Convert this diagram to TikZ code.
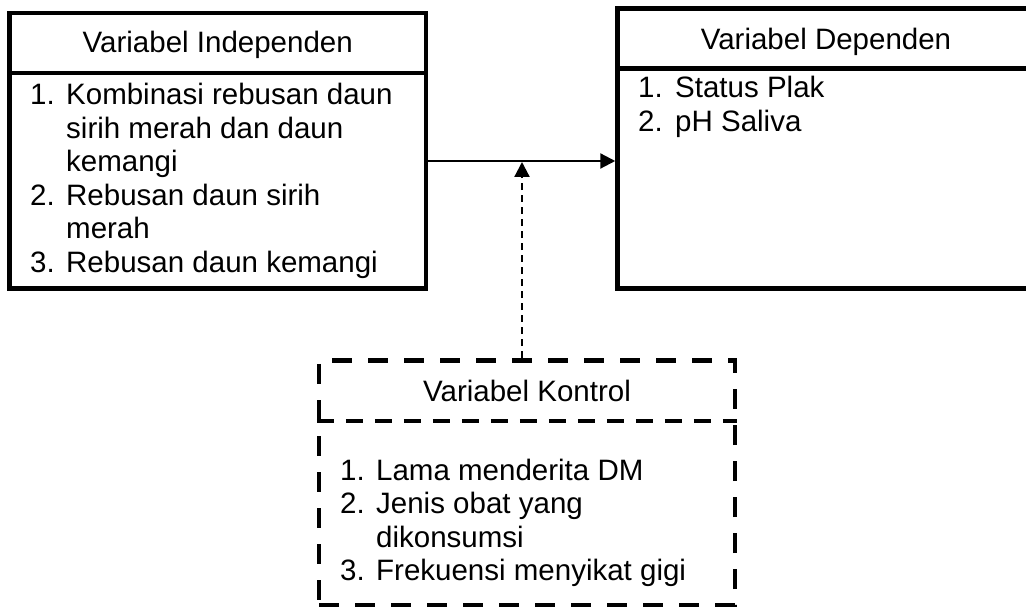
\documentclass[tikz,border=0pt]{standalone}
\usepackage{fontspec}
\setmainfont{Liberation Sans}
\usetikzlibrary{arrows.meta}

\tikzset{
  framebox/.style={draw, line width=4.5pt, inner sep=0pt},
  ctrlbox/.style={framebox, dash pattern=on 20pt off 16pt},
  divider/.style={line width=4.5pt},
  ctrldivider/.style={line width=4pt, dash pattern=on 17pt off 12pt},
  titletext/.style={anchor=base, inner sep=0pt, font=\fontsize{29.5}{34}\selectfont},
  listtext/.style={anchor=base west, inner sep=0pt, align=left, font=\fontsize{29.5}{33.6}\selectfont},
  flow/.style={line width=2.2pt, -{Triangle[length=15pt,width=15pt]}},
  ctrlflow/.style={flow, dash pattern=on 7pt off 5pt}
}

\begin{document}
\begin{tikzpicture}[x=1pt, y=-1pt]
  \useasboundingbox (0,0) rectangle (1026,612);

  % independent variable
  \node[framebox, minimum width=416.5pt, minimum height=275.5pt] (indep) at (217.75,150.75) {};
  \draw[divider] (indep.west |- 0,73) -- (indep.east |- 0,73);
  \node[titletext] (indeptitle) at (217.75,53) {Variabel Independen};
  \node[listtext] (indeplist) at (30,104.5) {%
    \begin{tabular}[t]{@{}p{36pt}@{}l@{}}
      1. & Kombinasi rebusan daun \\
         & sirih merah dan daun \\
         & kemangi \\
      2. & Rebusan daun sirih \\
         & merah \\
      3. & Rebusan daun kemangi
    \end{tabular}};

  % dependent variable
  \node[framebox, minimum width=417pt, minimum height=280pt] (dep) at (826,148.5) {};
  \draw[divider] (dep.west |- 0,68.5) -- (dep.east |- 0,68.5);
  \node[titletext] (deptitle) at (826,50) {Variabel Dependen};
  \node[listtext] (deplist) at (638,97.5) {%
    \begin{tabular}[t]{@{}p{37pt}@{}l@{}}
      1. & Status Plak \\
      2. & pH Saliva
    \end{tabular}};

  % control variable
  \node[ctrlbox, minimum width=416pt, minimum height=244.5pt] (kontrol) at (527,482.75) {};
  \draw[ctrldivider] (kontrol.west |- 0,421) -- (kontrol.east |- 0,421);
  \node[titletext] (kontroltitle) at (527,402) {Variabel Kontrol};
  \node[listtext] (kontrollist) at (340,480) {%
    \begin{tabular}[t]{@{}p{36pt}@{}l@{}}
      1. & Lama menderita DM \\
      2. & Jenis obat yang \\
         & dikonsumsi \\
      3. & Frekuensi menyikat gigi
    \end{tabular}};

  % connectors
  \coordinate (junction) at (522,161);
  \draw[flow] (indep.east |- junction) -- (dep.west |- junction);
  \draw[ctrlflow] (kontrol.north -| junction) -- ([yshift=-1pt]junction);
\end{tikzpicture}
\end{document}
